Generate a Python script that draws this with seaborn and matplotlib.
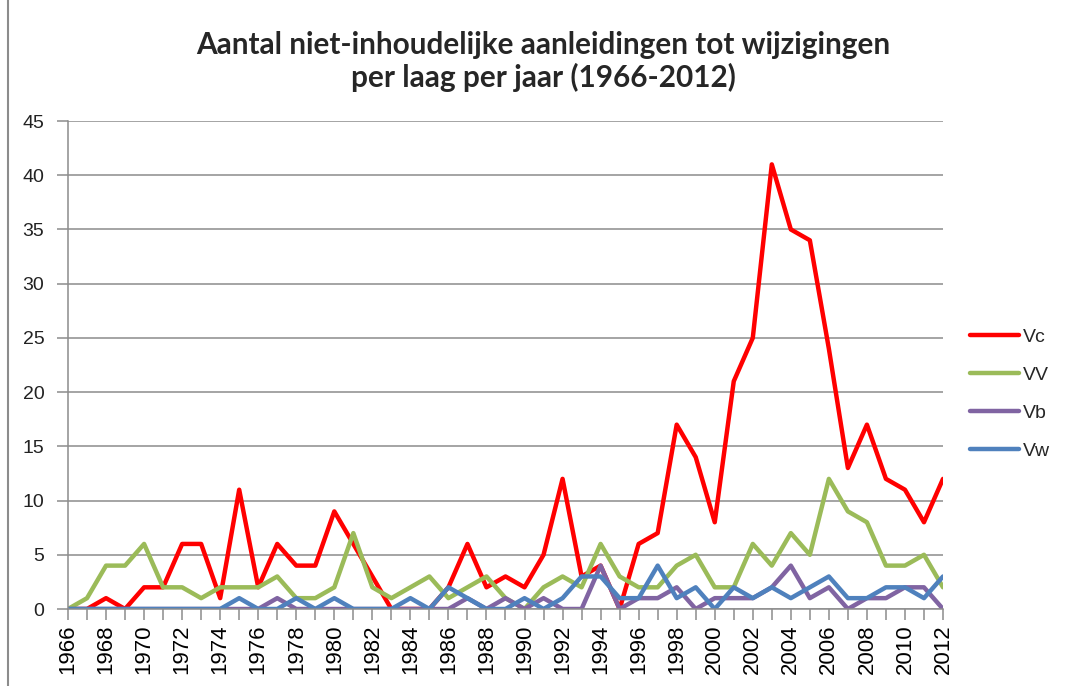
import pandas as pd
import numpy as np
import matplotlib
matplotlib.use("Agg")
import matplotlib.pyplot as plt
import seaborn as sns
from matplotlib.lines import Line2D

# data
years = list(range(1966, 2013))
vc = [0, 0, 1, 0, 2, 2, 6, 6, 1, 11, 2, 6, 4, 4, 9, 6, 3, 0, 0, 0, 2, 6, 2, 3,
      2, 5, 12, 3, 4, 0, 6, 7, 17, 14, 8, 21, 25, 41, 35, 34, 24, 13, 17, 12,
      11, 8, 12]
vv = [0, 1, 4, 4, 6, 2, 2, 1, 2, 2, 2, 3, 1, 1, 2, 7, 2, 1, 2, 3, 1, 2, 3, 1,
      0, 2, 3, 2, 6, 3, 2, 2, 4, 5, 2, 2, 6, 4, 7, 5, 12, 9, 8, 4, 4, 5, 2]
vb = [0, 0, 0, 0, 0, 0, 0, 0, 0, 0, 0, 1, 0, 0, 0, 0, 0, 0, 0, 0, 0, 1, 0, 1,
      0, 1, 0, 0, 4, 0, 1, 1, 2, 0, 1, 1, 1, 2, 4, 1, 2, 0, 1, 1, 2, 2, 0]
vw = [0, 0, 0, 0, 0, 0, 0, 0, 0, 1, 0, 0, 1, 0, 1, 0, 0, 0, 1, 0, 2, 1, 0, 0,
      1, 0, 1, 3, 3, 1, 1, 4, 1, 2, 0, 2, 1, 2, 1, 2, 3, 1, 1, 2, 2, 1, 3]
series = ["Vc", "VV", "Vb", "Vw"]
colors = ["#FF0000", "#9BBB59", "#8064A2", "#4F81BD"]

df = pd.DataFrame({"Jaar": years, "Vc": vc, "VV": vv, "Vb": vb, "Vw": vw})
long = df.melt(id_vars="Jaar", var_name="Laag", value_name="Aantal")

sns.set_style("white")
plt.rcParams["font.family"] = ["Liberation Sans", "DejaVu Sans"]

fig = plt.figure(figsize=(10.72, 6.86), dpi=100)
ax = fig.add_axes([68 / 1072, 1 - 609 / 686, 875 / 1072, 488 / 686])

grey = "#8C8C8C"
ax.set_axisbelow(True)
ax.yaxis.grid(True, color=grey, linewidth=1.1)
ax.xaxis.grid(False)

sns.lineplot(data=long, x="Jaar", y="Aantal", hue="Laag", hue_order=series,
             palette=colors, linewidth=3.2, ax=ax, legend=True)

ax.set_xlim(1966, 2012)
ax.set_ylim(0, 45)
ax.set_yticks(range(0, 46, 5))
ax.set_xticks(years)
ax.set_xticklabels([str(y) if y % 2 == 0 else "" for y in years], rotation=90)
ax.set_xlabel("")
ax.set_ylabel("")

for side in ["top", "right"]:
    ax.spines[side].set_visible(False)
for side in ["left", "bottom"]:
    ax.spines[side].set_color(grey)
    ax.spines[side].set_linewidth(1.1)

ax.tick_params(axis="y", length=8, width=1.1, color=grey, pad=9,
               labelsize=14, labelcolor="#222222", left=True)
ax.tick_params(axis="x", length=8, width=1.1, color=grey, pad=3,
               labelsize=16, labelcolor="black", bottom=True)

handles = [Line2D([0], [0], color=c, linewidth=3.2) for c in colors]
ax.legend(handles, series, loc="center left", bbox_to_anchor=(0.905, 0.426),
          bbox_transform=fig.transFigure, frameon=False, fontsize=14,
          handlelength=2.5, handletextpad=0.2, labelspacing=1.05,
          borderpad=0, borderaxespad=0)

fig.text(0.507, 1 - 45 / 686, "Aantal niet-inhoudelijke aanleidingen tot wijzigingen",
         ha="center", va="center", fontsize=21.4, fontweight="bold", family="Lato")
fig.text(0.507, 1 - 77 / 686, "per laag per jaar (1966-2012)",
         ha="center", va="center", fontsize=21.4, fontweight="bold", family="Lato")

fig.add_artist(Line2D([8 / 1072, 8 / 1072], [0, 1], color=grey, linewidth=1.5,
                      transform=fig.transFigure))

fig.savefig("out.png", dpi=100)
